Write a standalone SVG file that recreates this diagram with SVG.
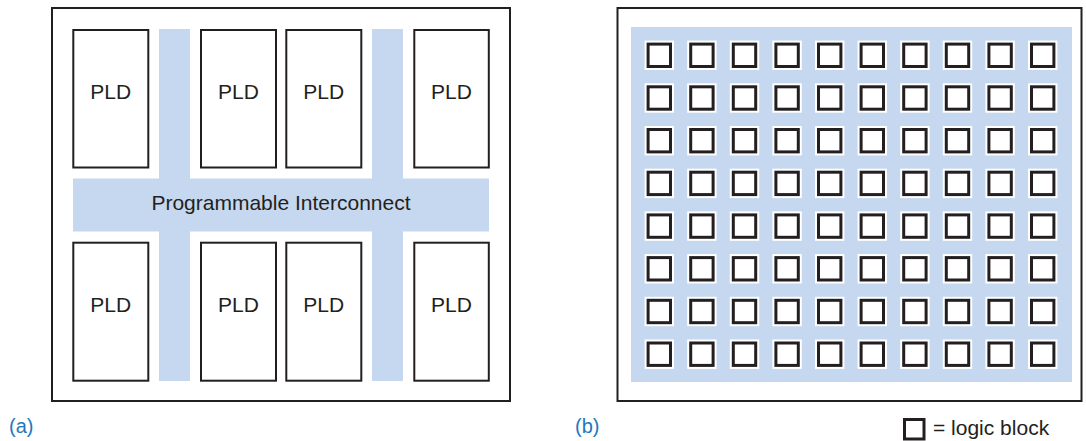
<svg xmlns="http://www.w3.org/2000/svg" xmlns:xlink="http://www.w3.org/1999/xlink" width="1086" height="441" viewBox="0 0 1086 441">
<style>
  .frame{fill:#fff;stroke:#231f20;stroke-width:2}
  .bus{fill:#c6d8ef}
  .pld{fill:#fff;stroke:#231f20;stroke-width:2}
  .t{font-family:"Liberation Sans",Arial,sans-serif;font-size:21px;fill:#231f20;text-anchor:middle}
  .lbl{font-family:"Liberation Sans",Arial,sans-serif;font-size:20px;fill:#1f78bd}
  .halo{fill:#fff;stroke:#fff;stroke-width:7}
  .lb{fill:#fff;stroke:#231f20;stroke-width:3}
</style>
<defs>
  <g id="cell">
    <rect class="halo" x="-11.2" y="-11.2" width="22.4" height="22.4"/>
    <rect class="lb" x="-11.2" y="-11.2" width="22.4" height="22.4"/>
  </g>
</defs>
<rect width="1086" height="441" fill="#fff"/>

<!-- (a) -->
<g id="panel-a">
  <rect class="frame" x="52" y="8" width="458" height="393"/>
  <g id="interconnect">
    <rect class="bus" x="159" y="29" width="31" height="352"/>
    <rect class="bus" x="372" y="29" width="31" height="352"/>
    <rect class="bus" x="73" y="178.5" width="416" height="53"/>
    <text class="t" x="281" y="210">Programmable Interconnect</text>
  </g>
  <g id="pld1"><rect class="pld" x="73.3" y="30" width="75" height="137.5"/><text class="t" x="110.8" y="98.5">PLD</text></g>
  <g id="pld2"><rect class="pld" x="201" y="30" width="75" height="137.5"/><text class="t" x="238.5" y="98.5">PLD</text></g>
  <g id="pld3"><rect class="pld" x="286.3" y="30" width="75" height="137.5"/><text class="t" x="323.8" y="98.5">PLD</text></g>
  <g id="pld4"><rect class="pld" x="414.3" y="30" width="74.5" height="137.5"/><text class="t" x="451.5" y="98.5">PLD</text></g>
  <g id="pld5"><rect class="pld" x="73.3" y="242.7" width="75" height="138"/><text class="t" x="110.8" y="311.7">PLD</text></g>
  <g id="pld6"><rect class="pld" x="201" y="242.7" width="75" height="138"/><text class="t" x="238.5" y="311.7">PLD</text></g>
  <g id="pld7"><rect class="pld" x="286.3" y="242.7" width="75" height="138"/><text class="t" x="323.8" y="311.7">PLD</text></g>
  <g id="pld8"><rect class="pld" x="414.3" y="242.7" width="74.5" height="138"/><text class="t" x="451.5" y="311.7">PLD</text></g>
  <text class="lbl" x="9" y="433">(a)</text>
</g>

<!-- (b) -->
<g id="panel-b">
  <rect class="frame" x="617.5" y="8" width="464" height="393"/>
  <rect class="bus" x="631" y="27" width="441" height="355"/>
  <g id="logic-blocks">
    <g id="row1" transform="translate(0,55.3)">
      <use xlink:href="#cell" x="659.3"/><use xlink:href="#cell" x="701.9"/><use xlink:href="#cell" x="744.5"/><use xlink:href="#cell" x="787.1"/><use xlink:href="#cell" x="829.7"/><use xlink:href="#cell" x="872.3"/><use xlink:href="#cell" x="914.9"/><use xlink:href="#cell" x="957.5"/><use xlink:href="#cell" x="1000.1"/><use xlink:href="#cell" x="1042.7"/>
    </g>
    <g id="row2" transform="translate(0,98)">
      <use xlink:href="#cell" x="659.3"/><use xlink:href="#cell" x="701.9"/><use xlink:href="#cell" x="744.5"/><use xlink:href="#cell" x="787.1"/><use xlink:href="#cell" x="829.7"/><use xlink:href="#cell" x="872.3"/><use xlink:href="#cell" x="914.9"/><use xlink:href="#cell" x="957.5"/><use xlink:href="#cell" x="1000.1"/><use xlink:href="#cell" x="1042.7"/>
    </g>
    <g id="row3" transform="translate(0,140.7)">
      <use xlink:href="#cell" x="659.3"/><use xlink:href="#cell" x="701.9"/><use xlink:href="#cell" x="744.5"/><use xlink:href="#cell" x="787.1"/><use xlink:href="#cell" x="829.7"/><use xlink:href="#cell" x="872.3"/><use xlink:href="#cell" x="914.9"/><use xlink:href="#cell" x="957.5"/><use xlink:href="#cell" x="1000.1"/><use xlink:href="#cell" x="1042.7"/>
    </g>
    <g id="row4" transform="translate(0,183.4)">
      <use xlink:href="#cell" x="659.3"/><use xlink:href="#cell" x="701.9"/><use xlink:href="#cell" x="744.5"/><use xlink:href="#cell" x="787.1"/><use xlink:href="#cell" x="829.7"/><use xlink:href="#cell" x="872.3"/><use xlink:href="#cell" x="914.9"/><use xlink:href="#cell" x="957.5"/><use xlink:href="#cell" x="1000.1"/><use xlink:href="#cell" x="1042.7"/>
    </g>
    <g id="row5" transform="translate(0,226.1)">
      <use xlink:href="#cell" x="659.3"/><use xlink:href="#cell" x="701.9"/><use xlink:href="#cell" x="744.5"/><use xlink:href="#cell" x="787.1"/><use xlink:href="#cell" x="829.7"/><use xlink:href="#cell" x="872.3"/><use xlink:href="#cell" x="914.9"/><use xlink:href="#cell" x="957.5"/><use xlink:href="#cell" x="1000.1"/><use xlink:href="#cell" x="1042.7"/>
    </g>
    <g id="row6" transform="translate(0,268.8)">
      <use xlink:href="#cell" x="659.3"/><use xlink:href="#cell" x="701.9"/><use xlink:href="#cell" x="744.5"/><use xlink:href="#cell" x="787.1"/><use xlink:href="#cell" x="829.7"/><use xlink:href="#cell" x="872.3"/><use xlink:href="#cell" x="914.9"/><use xlink:href="#cell" x="957.5"/><use xlink:href="#cell" x="1000.1"/><use xlink:href="#cell" x="1042.7"/>
    </g>
    <g id="row7" transform="translate(0,311.5)">
      <use xlink:href="#cell" x="659.3"/><use xlink:href="#cell" x="701.9"/><use xlink:href="#cell" x="744.5"/><use xlink:href="#cell" x="787.1"/><use xlink:href="#cell" x="829.7"/><use xlink:href="#cell" x="872.3"/><use xlink:href="#cell" x="914.9"/><use xlink:href="#cell" x="957.5"/><use xlink:href="#cell" x="1000.1"/><use xlink:href="#cell" x="1042.7"/>
    </g>
    <g id="row8" transform="translate(0,354.2)">
      <use xlink:href="#cell" x="659.3"/><use xlink:href="#cell" x="701.9"/><use xlink:href="#cell" x="744.5"/><use xlink:href="#cell" x="787.1"/><use xlink:href="#cell" x="829.7"/><use xlink:href="#cell" x="872.3"/><use xlink:href="#cell" x="914.9"/><use xlink:href="#cell" x="957.5"/><use xlink:href="#cell" x="1000.1"/><use xlink:href="#cell" x="1042.7"/>
    </g>
  </g>
  <text class="lbl" x="575" y="433">(b)</text>
  <g id="legend">
    <rect class="lb" x="904.5" y="419.5" width="19.5" height="19.5"/>
    <text x="933" y="435" font-family="Liberation Sans, Arial, sans-serif" font-size="21" fill="#231f20">= logic block</text>
  </g>
</g>
</svg>
